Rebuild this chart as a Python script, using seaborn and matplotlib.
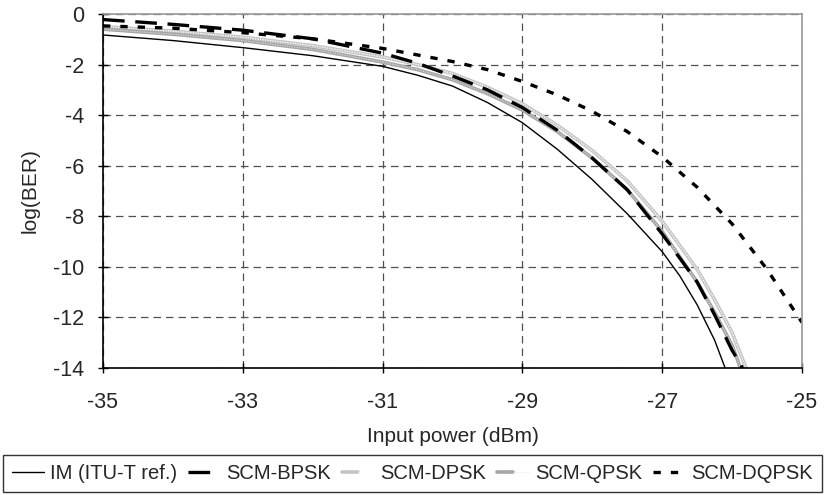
import matplotlib
matplotlib.use("Agg")
import matplotlib.pyplot as plt
import seaborn as sns
import pandas as pd
from matplotlib.legend_handler import HandlerTuple

# ---- data ----
im_x = [-35, -34, -33, -32, -31, -30.5, -30, -29.5, -29, -28.5, -28, -27.5, -27, -26.75, -26.5, -26.25, -26.1]
im_y = [-0.83, -1.05, -1.33, -1.65, -2.07, -2.42, -2.85, -3.5, -4.3, -5.35, -6.55, -7.9, -9.4, -10.35, -11.5, -12.9, -14]

bpsk_x = [-35, -34, -33, -32, -31, -30.5, -30, -29.5, -29, -28.5, -28, -27.5, -27, -26.5, -26.25, -26, -25.85]
bpsk_y = [-0.22, -0.41, -0.64, -0.98, -1.55, -1.95, -2.45, -3.0, -3.7, -4.6, -5.7, -6.95, -8.7, -10.6, -11.9, -13.3, -14]

dpsk_x = [-35, -34, -33, -32, -31, -30.5, -30, -29.5, -29, -28.5, -28, -27.5, -27, -26.5, -26.25, -26, -25.8]
dpsk_y = [-0.5, -0.68, -0.92, -1.25, -1.7, -2.0, -2.35, -2.9, -3.55, -4.4, -5.4, -6.6, -8.2, -10.1, -11.3, -12.6, -14]

qpsk_x = [-35, -34, -33, -32, -31, -30.5, -30, -29.5, -29, -28.5, -28, -27.5, -27, -26.5, -26.25, -26, -25.88]
qpsk_y = [-0.6, -0.8, -1.05, -1.4, -1.9, -2.2, -2.6, -3.15, -3.8, -4.65, -5.7, -6.95, -8.6, -10.6, -11.8, -13.1, -14]

dqpsk_x = [-35, -34, -33, -32, -31, -30, -29.5, -29, -28.5, -28, -27.5, -27, -26.5, -26, -25.5, -25]
dqpsk_y = [-0.47, -0.56, -0.74, -0.98, -1.36, -1.88, -2.2, -2.67, -3.2, -3.85, -4.65, -5.65, -6.85, -8.3, -10.1, -12.2]

labels = ["IM (ITU-T ref.)", "SCM-BPSK", "SCM-DPSK", "SCM-QPSK", "SCM-DQPSK"]
x_ticks = [-35, -33, -31, -29, -27, -25]
y_ticks = [0, -2, -4, -6, -8, -10, -12, -14]

sns.set_theme(style="white")
plt.rcParams['font.family'] = ['Liberation Sans', 'DejaVu Sans']

fig = plt.figure(figsize=(8.25, 4.95), dpi=100)
ax = fig.add_axes([103/825, 1-368/495, (802-103)/825, (368-14)/495])

def df(x, y):
    return pd.DataFrame({"x": x, "y": y})

# gray textured series first (underneath)
l_dpsk = sns.lineplot(data=df(dpsk_x, dpsk_y), x="x", y="y", ax=ax, color="#c4c4c4", linewidth=2.6, sort=False).lines[-1]
l_dpsk_w = sns.lineplot(data=df(dpsk_x, dpsk_y), x="x", y="y", ax=ax, color="white", linewidth=0.9, linestyle=(0, (1, 1)), sort=False).lines[-1]
l_qpsk = sns.lineplot(data=df(qpsk_x, qpsk_y), x="x", y="y", ax=ax, color="#a6a6a6", linewidth=2.6, sort=False).lines[-1]
l_qpsk_w = sns.lineplot(data=df(qpsk_x, qpsk_y), x="x", y="y", ax=ax, color="#e6e6e6", linewidth=0.7, linestyle=(0, (1, 1.5)), sort=False).lines[-1]
l_im = sns.lineplot(data=df(im_x, im_y), x="x", y="y", ax=ax, color="black", linewidth=1.0, sort=False).lines[-1]
l_bpsk = sns.lineplot(data=df(bpsk_x, bpsk_y), x="x", y="y", ax=ax, color="black", linewidth=2.4,
                      linestyle=(0, (6.5, 3.2)), sort=False).lines[-1]
l_dqpsk = sns.lineplot(data=df(dqpsk_x, dqpsk_y), x="x", y="y", ax=ax, color="black", linewidth=2.4,
                       linestyle=(0, (2.2, 3.0)), sort=False).lines[-1]
for l in (l_bpsk, l_dqpsk):
    l.set_solid_capstyle("butt"); l.set_dash_capstyle("butt")

ax.set_xlim(-35, -25)
ax.set_ylim(-14, 0)
ax.set_xticks(x_ticks)
ax.set_yticks(y_ticks)
ax.set_xticklabels([str(v) for v in x_ticks])
ax.set_yticklabels([str(v) for v in y_ticks])
ax.tick_params(axis="both", direction="inout", length=7, width=1, color="black",
               labelsize=15.5, bottom=True, left=True)
ax.tick_params(axis="x", pad=14)
ax.tick_params(axis="y", pad=10)
ax.grid(True, color="#505050", linestyle=(0, (6, 4)), linewidth=0.9)
ax.set_axisbelow(True)
for s in ("top", "right"):
    ax.spines[s].set_color("#9a9a9a"); ax.spines[s].set_linewidth(1.2)
for s in ("left", "bottom"):
    ax.spines[s].set_color("black"); ax.spines[s].set_linewidth(1.2)

ax.set_xlabel("Input power (dBm)", fontsize=15)
ax.set_ylabel("log(BER)", fontsize=15)
ax.xaxis.set_label_coords(0.5, -(437-368)/354)
ax.xaxis.label.set_va("center")
ax.yaxis.set_label_coords(-(103-30)/699, 0.5)
ax.yaxis.label.set_va("center")

handles = [l_im, l_bpsk, (l_dpsk, l_dpsk_w), (l_qpsk, l_qpsk_w), l_dqpsk]
leg = fig.legend(handles, labels, loc="lower left", ncol=5, mode="expand",
                 bbox_to_anchor=(3/825, 3/495, 819/825, 42/495), borderaxespad=0,
                 frameon=True, fancybox=False, edgecolor="black", fontsize=14.5,
                 handlelength=1.6, handletextpad=0.3, columnspacing=0.45,
                 borderpad=0.45, handler_map={tuple: HandlerTuple(ndivide=None, pad=0)})
leg.get_frame().set_linewidth(1.0)

fig.savefig("out.png", dpi=100)
